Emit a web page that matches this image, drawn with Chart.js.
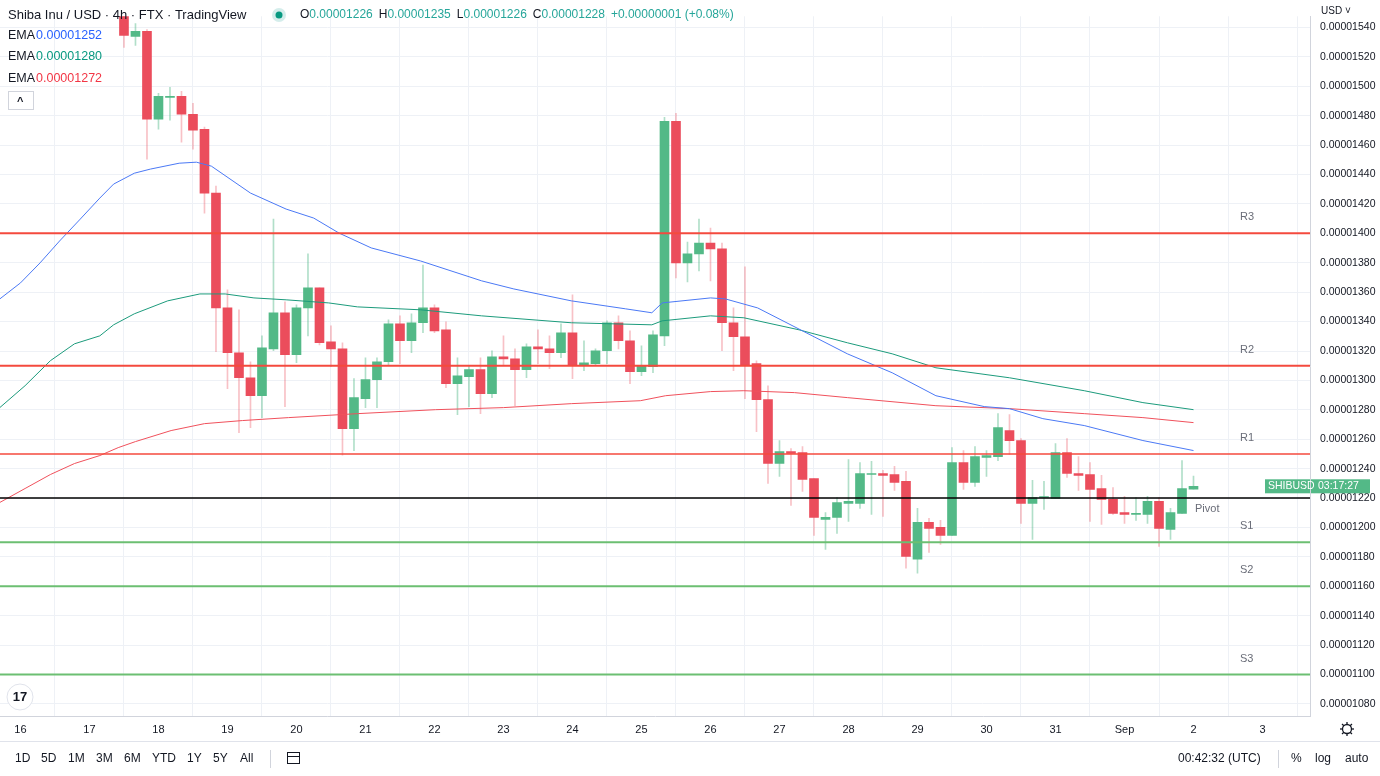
<!DOCTYPE html>
<html><head><meta charset="utf-8">
<script src="https://cdn.jsdelivr.net/npm/chart.js@4.4.0/dist/chart.umd.min.js"></script>
<style>html,body{margin:0;padding:0;background:#fff}#w{width:1380px;height:776px;position:relative}</style>
</head><body><div id="w"><canvas id="c"></canvas></div>
<script>
// prices in units of 1e-8 USD; candle index 0 = 17 Aug 12:00, 4h per candle
const opens = [1551,1533.9,1537.3,1477.6,1492.5,1493.2,1481.0,1470.8,1427.4,1349.3,
1318.8,1301.8,1289.6,1321.5,1346.0,1317.5,1349.3,1362.9,1326.3,1321.5,
1267.2,1287.6,1300.5,1312.7,1338.5,1327.0,1339.2,1349.3,1334.4,1297.8,
1302.5,1307.3,1291.0,1316.1,1314.7,1307.3,1322.9,1321.5,1318.8,1332.4,
1310.0,1311.4,1320.2,1339.2,1327.0,1306.0,1309.3,1330.3,1476.2,1379.9,
1386.0,1393.4,1389.4,1339.2,1329.7,1311.4,1286.9,1243.5,1251.6,1250.9,
1233.3,1205.5,1206.9,1216.4,1216.4,1236.0,1236.7,1236.0,1231.3,1178.4,
1203.5,1200.1,1194.6,1244.2,1230.6,1247.6,1248.2,1265.9,1259.1,1216.4,
1220.4,1219.8,1250.9,1236.7,1236.0,1226.5,1219.1,1210.2,1208.9,1208.9,
1217.7,1198.7,1209.6,1226];
const highs = [1557.6,1542.7,1538.6,1495.2,1499.3,1496.6,1488.4,1472.2,1432.1,1361.6,
1348.0,1312.7,1330.3,1409.7,1353.4,1351.4,1386.0,1362.9,1337.1,1325.6,
1301.2,1315.4,1315.4,1341.2,1343.9,1345.3,1378.5,1351.4,1339.8,1315.4,
1310.0,1315.4,1320.2,1330.3,1321.5,1324.9,1334.4,1330.3,1338.5,1358.2,
1327.0,1321.5,1340.5,1343.9,1333.7,1323.6,1333.7,1478.9,1481.6,1394.1,
1409.7,1403.6,1393.4,1349.3,1377.2,1313.4,1296.4,1259.1,1253.7,1255.0,
1233.3,1210.2,1220.4,1246.2,1244.2,1244.9,1238.8,1241.5,1238.1,1213.0,
1206.2,1204.8,1254.3,1252.3,1255.0,1252.3,1277.4,1276.7,1260.5,1232.0,
1231.3,1257.1,1260.5,1248.2,1244.2,1235.4,1227.2,1221.1,1220.4,1221.1,
1220.4,1213.0,1245.5,1235];
const lows = [1526.4,1527.8,1450.4,1470.8,1476.9,1462.0,1457.2,1413.8,1319.5,1294.4,
1264.5,1267.9,1274.7,1320.2,1282.2,1312.0,1330.3,1324.2,1309.3,1249.1,
1252.3,1281.5,1281.5,1310.0,1311.4,1318.8,1332.4,1332.4,1295.1,1276.7,
1282.2,1277.4,1288.3,1310.0,1282.8,1301.8,1311.4,1308.0,1315.4,1301.2,
1306.6,1310.0,1311.4,1321.5,1297.8,1303.2,1305.2,1323.6,1369.7,1367.0,
1374.4,1367.7,1320.2,1306.6,1287.6,1265.2,1229.9,1234.7,1215.0,1224.5,
1194.6,1185.1,1196.0,1204.1,1213.0,1208.9,1207.5,1225.2,1172.3,1168.9,
1183.1,1188.5,1194.6,1225.9,1227.9,1234.7,1245.5,1249.6,1202.8,1191.9,
1212.3,1219.8,1234.0,1225.2,1204.1,1202.1,1208.9,1202.8,1204.8,1202.8,
1187.2,1191.9,1209.6,1226];
const closes = [1534.6,1537.3,1477.6,1493.2,1493.2,1481.0,1470.1,1427.4,1349.3,1318.8,
1301.8,1289.6,1322.2,1346.0,1317.5,1349.3,1362.9,1325.6,1321.5,1267.2,
1288.3,1300.5,1312.7,1338.5,1327.0,1339.2,1349.3,1333.7,1297.8,1303.2,
1307.3,1291.0,1316.1,1314.7,1307.3,1322.9,1321.5,1318.8,1332.4,1310.0,
1312.0,1320.2,1339.2,1327.0,1306.0,1310.0,1331.0,1476.2,1379.9,1386.0,
1393.4,1389.4,1339.2,1329.7,1310.0,1286.9,1243.5,1251.6,1250.3,1232.6,
1206.9,1206.9,1217.0,1217.7,1236.7,1236.7,1235.4,1230.6,1180.4,1203.5,
1199.4,1194.6,1244.2,1230.6,1248.2,1248.9,1267.9,1259.1,1216.4,1220.4,
1220.4,1250.9,1236.7,1235.4,1225.9,1219.1,1209.6,1208.9,1208.9,1217.7,
1199.4,1210.2,1226.5,1228];
// EMA samples: [candle index, value]
const emaBlue = [[-10.8,1355.4],[-9,1366.3],[-7.3,1379.9],[-5.6,1394.8],[-3.8,1409.7],[-2.1,1424],[-0.9,1433.5],[0.9,1440.9],[2.3,1443.7],[4.8,1447.7],[6.3,1448.4],[7.6,1445.7],[11,1427.4],[14.1,1416.5],[16.5,1410.4],[18.7,1400.2],[21.5,1390.1],[25.8,1381.2],[31.1,1367.7],[33.9,1362.2],[38.9,1354.1],[43.6,1348.7],[45.9,1346],[46.8,1352.7],[51,1356.1],[52.3,1355.4],[55.1,1349.3],[59,1333.7],[62.9,1318.1],[66.8,1305.2],[70.6,1289.6],[74.8,1282.2],[77,1280.8],[79.9,1274],[83.5,1269.3],[88.6,1259.1],[93,1252.3]];
const emaGreen = [[-10.8,1281.5],[-8.6,1296.4],[-6.4,1313.4],[-4.3,1324.9],[-2.1,1330.3],[-0.9,1337.8],[0.9,1345.3],[3.8,1354.1],[6.6,1358.8],[8.8,1358.8],[11.3,1356.1],[14.1,1354.8],[17.8,1352.7],[20.3,1350],[25.8,1348],[31.1,1343.9],[38.9,1339.2],[45.9,1337.8],[46.8,1340.5],[51,1343.9],[53.9,1342.6],[58.7,1334.4],[62.9,1325.6],[66.8,1318.1],[70.6,1308.6],[77,1301.8],[83.5,1293],[88.6,1284.9],[93,1280.1]];
const emaRed = [[-10.8,1217],[-8.6,1226.5],[-6.4,1236],[-4.3,1243.5],[-2.1,1248.9],[-0.5,1254.3],[1,1258.4],[4.1,1265.9],[7,1270.6],[10.3,1272.7],[14.3,1274.7],[20.3,1277.4],[27.1,1280.1],[33,1281.5],[38.9,1284.2],[44.9,1286.2],[47.1,1289.6],[51,1292.4],[53.9,1293],[58.3,1291.7],[62.9,1288.3],[70.6,1282.8],[77,1280.8],[83.5,1277.4],[88.6,1274.7],[93,1271.3]];
const levelNames = ['R3','R2','R1','Pivot','S1','S2','S3'];
const levelValues = [1400,1310,1250,1220,1190,1160,1100];
const dayLabels = ['16','17','18','19','20','21','22','23','24','25','26','27','28','29','30','31','Sep','2','3'];
const dayIndex = [-9,-3,3,9,15,21,27,33,39,45,51,57,63,69,75,81,87,93,99];
const yTicks = [];
for (let v = 1080; v <= 1540; v += 20) yTicks.push(v);

const UP='#53b987', DN='#eb4d5c';
const X_MIN=-10.78, X_MAX=103.13, Y_MIN=1071.8, Y_MAX=1547.6;
const body=[], wick=[], bodyCol=[], wickCol=[];
opens.forEach((o,i)=>{
  const up = closes[i]>=o;
  body.push({x:i,y:[o,closes[i]]}); bodyCol.push(up?UP:DN);
  wick.push({x:i,y:[lows[i],highs[i]]}); wickCol.push(up?'rgba(83,185,135,0.45)':'rgba(235,77,92,0.35)');
});
const toPts = a => a.map(p=>({x:p[0],y:p[1]}));
const levelColors = ['#f44a3e','#f44a3e','#f44a3e','#000000','#6cbf72','#6cbf72','#6cbf72'];
const levelWidths = [2,2,1.5,1.5,2,2,2];
const levelSets = levelValues.map((v,i)=>({type:'line',data:[{x:X_MIN,y:v},{x:X_MAX,y:v}],borderColor:levelColors[i],borderWidth:levelWidths[i],pointRadius:0,order:-2}));
const F='"Liberation Sans", Arial, sans-serif';

const overlay = {
  id:'overlay',
  afterDraw(ch){
    const c=ch.ctx, ys=ch.scales.y;
    c.save();
    c.font='11px '+F; c.fillStyle='#6a6d78'; c.textBaseline='middle';
    levelNames.forEach((n,i)=>{
      const y=ys.getPixelForValue(levelValues[i]);
      if(n==='Pivot'){c.fillText(n,1195,y+11);} else {c.fillText(n,1240,y-16);}
    });
    c.font='13px '+F; c.fillStyle='#131722';
    c.fillText('Shiba Inu / USD · 4h · FTX · TradingView',8,15);
    c.fillStyle='rgba(38,166,154,0.2)'; c.beginPath(); c.arc(279,15,7,0,Math.PI*2); c.fill();
    c.fillStyle='#089981'; c.beginPath(); c.arc(279,15,3.5,0,Math.PI*2); c.fill();
    let x=300; c.font='12px '+F;
    [['O','0.00001226'],['H','0.00001235'],['L','0.00001226'],['C','0.00001228']].forEach(p=>{
      c.fillStyle='#131722'; c.fillText(p[0],x,15); x+=c.measureText(p[0]).width;
      c.fillStyle='#26a69a'; c.fillText(p[1],x,15); x+=c.measureText(p[1]).width+6;
    });
    c.fillText('+0.00000001 (+0.08%)',x,15);
    c.font='12.5px '+F;
    [['0.00001252','#2962ff',36],['0.00001280','#089981',57],['0.00001272','#f23645',79]].forEach(r=>{
      c.fillStyle='#131722'; c.fillText('EMA',8,r[2]); c.fillStyle=r[1]; c.fillText(r[0],36,r[2]);
    });
    c.strokeStyle='#d1d4dc'; c.lineWidth=1; c.strokeRect(8.5,91.5,25,18);
    c.fillStyle='#131722'; c.font='bold 11px '+F; c.fillText('^',17,102);
    const py=ys.getPixelForValue(closes[closes.length-1]);
    c.fillStyle=UP; c.fillRect(1265,py-7,45,14); c.fillRect(1311,py-7,59,14);
    c.fillStyle='#fff'; c.font='10.5px '+F; c.fillText('SHIBUSD',1268,py); c.fillText('03:17:27',1318,py);
    c.fillStyle='#131722'; c.font='10px '+F; c.fillText('USD ˅',1321,11);
    c.strokeStyle='#e0e3eb'; c.beginPath(); c.moveTo(0,741.5); c.lineTo(1380,741.5); c.stroke();
    c.font='12px '+F; c.fillStyle='#131722';
    [['1D',15],['5D',41],['1M',68],['3M',96],['6M',124],['YTD',152],['1Y',187],['5Y',213],['All',240]].forEach(t=>c.fillText(t[0],t[1],759));
    c.strokeStyle='#d1d4dc'; c.beginPath(); c.moveTo(270.5,750); c.lineTo(270.5,768); c.stroke();
    c.strokeStyle='#131722'; c.strokeRect(287.5,752.5,12,11); c.beginPath(); c.moveTo(287,756.5); c.lineTo(300,756.5); c.stroke();
    c.fillText('00:42:32 (UTC)',1178,759);
    c.beginPath(); c.strokeStyle='#d1d4dc'; c.moveTo(1278.5,750); c.lineTo(1278.5,768); c.stroke();
    c.fillText('%',1291,759); c.fillText('log',1315,759); c.fillText('auto',1345,759);
    c.strokeStyle='#131722'; c.lineWidth=1.3; c.beginPath(); c.arc(1347,729,4.5,0,Math.PI*2); c.stroke();
    for(let k=0;k<8;k++){const a=k*Math.PI/4;c.beginPath();c.moveTo(1347+Math.cos(a)*4.5,729+Math.sin(a)*4.5);c.lineTo(1347+Math.cos(a)*7,729+Math.sin(a)*7);c.stroke();}
    c.fillStyle='#fff'; c.strokeStyle='#e0e3eb'; c.lineWidth=1; c.beginPath(); c.arc(20,697,13,0,Math.PI*2); c.fill(); c.stroke();
    c.fillStyle='#131722'; c.font='bold 13px '+F; c.textAlign='center'; c.fillText('17',20,697);
    c.restore();
  }
};

new Chart(document.getElementById('c'),{
  type:'bar',
  data:{datasets:[
    {type:'bar',data:wick,backgroundColor:wickCol,barThickness:1,grouped:false,order:2,minBarLength:1},
    {type:'bar',data:body,backgroundColor:bodyCol,barThickness:9,grouped:false,order:1,minBarLength:1},
    {type:'line',data:toPts(emaBlue),borderColor:'#4b79f5',borderWidth:1,pointRadius:0,order:0},
    {type:'line',data:toPts(emaGreen),borderColor:'#1c9b7c',borderWidth:1,pointRadius:0,order:0},
    {type:'line',data:toPts(emaRed),borderColor:'#f0515c',borderWidth:1,pointRadius:0,order:0},
    ...levelSets
  ]},
  options:{
    responsive:true,maintainAspectRatio:false,animation:false,
    layout:{padding:0},
    plugins:{legend:{display:false},tooltip:{enabled:false}},
    scales:{
      x:{type:'linear',min:X_MIN,max:X_MAX,offset:false,
        afterBuildTicks:s=>{s.ticks=dayIndex.map(v=>({value:v}));},
        afterFit:s=>{s.height=60;},
        grid:{color:'#eef1f6',drawTicks:false},
        border:{color:'#d1d4dc'},
        ticks:{padding:7,autoSkip:false,maxRotation:0,color:'#131722',
          font:{family:'"Liberation Sans", Arial, sans-serif',size:11},
          callback:v=>{const k=dayIndex.indexOf(v);return k>=0?dayLabels[k]:'';}}},
      y:{position:'right',min:Y_MIN,max:Y_MAX,
        afterBuildTicks:s=>{s.ticks=yTicks.map(v=>({value:v}));},
        afterFit:s=>{s.width=70;},
        grid:{color:'#eef1f6',drawTicks:false},
        border:{color:'#d1d4dc'},
        ticks:{padding:10,color:'#131722',font:{family:'"Liberation Sans", Arial, sans-serif',size:10.5},
          callback:v=>(v/1e8).toFixed(8)}}
    }
  },
  plugins:[overlay]
});
</script></body></html>
